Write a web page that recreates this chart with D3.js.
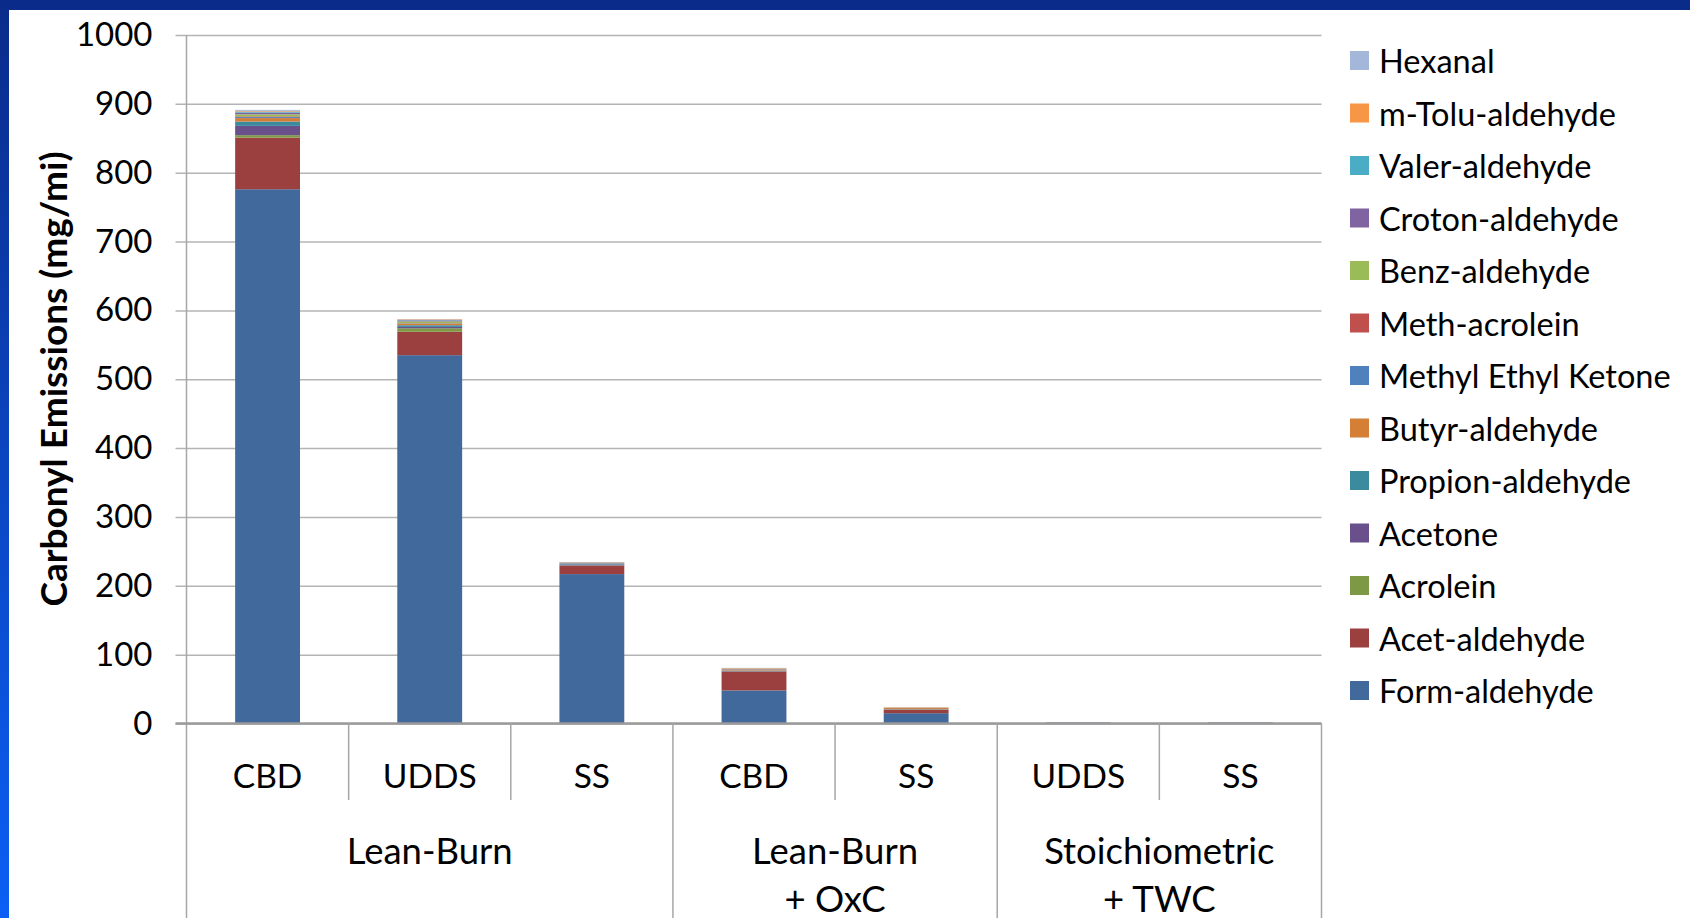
<!DOCTYPE html>
<html>
<head>
<meta charset="utf-8">
<script src="https://cdn.jsdelivr.net/npm/d3@7"></script>
<style>
  body { margin: 0; background: #fff; }
  svg text { font-family: Lato, "Open Sans", sans-serif; fill: #000; }
  .grid line { stroke: #b4b4b4; stroke-width: 1.5; }
  .tick-label { font-size: 33px; }
  .cat-label { font-size: 33.5px; }
  .group-label { font-size: 36.5px; }
  .legend-label { font-size: 32.5px; }
  .axis-title { font-size: 37px; font-weight: bold; }
</style>
</head>
<body>
<div id="chart"></div>
<script>
// Categories along the x axis (test cycle) and their group (engine setup)
const categories = ['CBD', 'UDDS', 'SS', 'CBD', 'SS', 'UDDS', 'SS'];
const groupOf = [0, 0, 0, 1, 1, 2, 2];
const groupNames = [['Lean-Burn'], ['Lean-Burn', '+ OxC'], ['Stoichiometric', '+ TWC']];

// Series, bottom of the stack first
const seriesNames = [
  'Form-aldehyde', 'Acet-aldehyde', 'Acrolein', 'Acetone', 'Propion-aldehyde',
  'Butyr-aldehyde', 'Methyl Ethyl Ketone', 'Meth-acrolein', 'Benz-aldehyde',
  'Croton-aldehyde', 'Valer-aldehyde', 'm-Tolu-aldehyde', 'Hexanal'
];
const seriesColors = [
  '#41699b', '#9b403e', '#7d9946', '#69508a', '#3c8a9e',
  '#d47e36', '#4f81bd', '#c0504d', '#9bbb59',
  '#8064a2', '#4bacc6', '#f79646', '#a5b7d9'
];

// mg/mi, one value per category
const formaldehyde   = [776, 535, 217, 48, 15, 1.4, 1.4];
const acetaldehyde   = [75, 34, 12, 27, 5, 0.2, 0.2];
const acrolein       = [3.5, 5, 0.5, 0.5, 0.3, 0, 0];
const acetone        = [13.5, 2, 1.5, 1, 0.3, 0, 0];
const propionaldehyde = [6.3, 2.5, 1, 0.5, 0.3, 0, 0];
const butyraldehyde  = [5, 2, 0.5, 1.5, 1.5, 0, 0];
const mek            = [1.5, 0.5, 0.5, 0.5, 0.2, 0, 0];
const methacrolein   = [1, 0.5, 0.3, 0.3, 0.1, 0, 0];
const benzaldehyde   = [3, 2.5, 0.3, 0.3, 0.2, 0, 0];
const crotonaldehyde = [2.5, 1.5, 0.3, 0.3, 0.1, 0, 0];
const valeraldehyde  = [1.5, 0.5, 0.2, 0.2, 0.1, 0, 0];
const mtolualdehyde  = [1, 1, 0.3, 0.5, 0.5, 0, 0];
const hexanal        = [1.5, 0.5, 0.2, 0.2, 0.1, 0, 0];

const seriesValues = [
  formaldehyde, acetaldehyde, acrolein, acetone, propionaldehyde, butyraldehyde,
  mek, methacrolein, benzaldehyde, crotonaldehyde, valeraldehyde, mtolualdehyde, hexanal
];

const yTicks = [0, 100, 200, 300, 400, 500, 600, 700, 800, 900, 1000];

// Layout
const W = 1690, H = 918;
const plot = { left: 186.5, right: 1321.5, top: 35, bottom: 723.5 };

const svg = d3.select('#chart').append('svg')
  .attr('width', W)
  .attr('height', H);

// Slide frame: blue gradient behind a white panel
const grad = svg.append('defs').append('linearGradient')
  .attr('id', 'frame-grad')
  .attr('x1', 0).attr('y1', 0).attr('x2', 0).attr('y2', 1);
grad.append('stop').attr('offset', '0%').attr('stop-color', '#0a2b8a');
grad.append('stop').attr('offset', '100%').attr('stop-color', '#0b5ff5');
svg.append('rect').attr('width', W).attr('height', H).attr('fill', 'url(#frame-grad)');
svg.append('rect').attr('x', 9).attr('y', 10).attr('width', W - 9).attr('height', H - 10).attr('fill', '#fff');

// Scales
const x = d3.scaleBand()
  .domain(d3.range(categories.length))
  .range([plot.left, plot.right])
  .paddingInner(0.6)
  .paddingOuter(0.3);
const step = x.step();

const y = d3.scaleLinear()
  .domain([0, 1000])
  .range([plot.bottom, plot.top]);

// Gridlines + y tick labels
const yAxis = d3.axisLeft(y)
  .tickValues(yTicks)
  .tickFormat(d3.format('d'))
  .tickSize(-(plot.right - plot.left + 11))
  .tickPadding(23);

const yAxisGroup = svg.append('g')
  .attr('class', 'grid')
  .attr('transform', `translate(${plot.left - 11},0)`)
  .call(yAxis);
yAxisGroup.select('.domain').remove();
yAxisGroup.selectAll('text')
  .attr('class', 'tick-label')
  .attr('font-family', null)
  .attr('font-size', null);

// Stacked bars
const table = categories.map((c, i) => {
  const row = { idx: i };
  seriesNames.forEach((s, k) => { row[s] = seriesValues[k][i]; });
  return row;
});
const stacked = d3.stack().keys(seriesNames)(table);

svg.append('g').selectAll('g')
  .data(stacked)
  .join('g')
  .attr('fill', (d, k) => seriesColors[k])
  .selectAll('rect')
  .data(d => d)
  .join('rect')
  .attr('x', d => x(d.data.idx))
  .attr('width', x.bandwidth())
  .attr('y', d => y(d[1]))
  .attr('height', d => Math.max(0, y(d[0]) - y(d[1])));

// Axes lines: y axis runs down through the category area
const axisColor = '#a6a6a6';
svg.append('line')
  .attr('x1', plot.left).attr('x2', plot.left)
  .attr('y1', plot.top).attr('y2', H)
  .attr('stroke', axisColor).attr('stroke-width', 1.5);
svg.append('line')
  .attr('x1', plot.left - 11).attr('x2', plot.right)
  .attr('y1', plot.bottom).attr('y2', plot.bottom)
  .attr('stroke', '#9a9a9a').attr('stroke-width', 2.5);

// Category separators: short ones inside a group, long ones between groups
const sepX = d3.range(1, categories.length + 1).map(i => plot.left + i * step);
svg.append('g').selectAll('line')
  .data(sepX)
  .join('line')
  .attr('x1', d => d).attr('x2', d => d)
  .attr('y1', plot.bottom)
  .attr('y2', (d, i) => (i === categories.length - 1 || groupOf[i] !== groupOf[i + 1]) ? H : 800)
  .attr('stroke', axisColor)
  .attr('stroke-width', 1.5);

// Category labels
svg.append('g').selectAll('text')
  .data(categories)
  .join('text')
  .attr('class', 'cat-label')
  .attr('x', (d, i) => x(i) + x.bandwidth() / 2)
  .attr('y', 775)
  .attr('text-anchor', 'middle')
  .attr('dominant-baseline', 'central')
  .text(d => d);

// Group labels, centred on their categories
groupNames.forEach((lines, g) => {
  const idx = categories.map((c, i) => i).filter(i => groupOf[i] === g);
  const cx = plot.left + (d3.min(idx) + d3.max(idx) + 1) / 2 * step;
  lines.forEach((t, j) => {
    svg.append('text')
      .attr('class', 'group-label')
      .attr('x', cx)
      .attr('y', 850 + j * 48)
      .attr('text-anchor', 'middle')
      .attr('dominant-baseline', 'central')
      .text(t);
  });
});

// Y axis title
svg.append('text')
  .attr('class', 'axis-title')
  .attr('transform', `translate(52,${379}) rotate(-90)`)
  .attr('text-anchor', 'middle')
  .attr('dominant-baseline', 'central')
  .text('Carbonyl Emissions (mg/mi)');

// Legend, top of stack first
const legendOrder = d3.range(seriesNames.length).reverse();
const legend = svg.append('g').selectAll('g')
  .data(legendOrder)
  .join('g')
  .attr('transform', (d, j) => `translate(1350,${60.5 + j * 52.5})`);
legend.append('rect')
  .attr('x', 0).attr('y', -9.5)
  .attr('width', 19).attr('height', 19)
  .attr('fill', k => seriesColors[k]);
legend.append('text')
  .attr('class', 'legend-label')
  .attr('x', 29)
  .attr('dominant-baseline', 'central')
  .text(k => seriesNames[k]);
</script>
</body>
</html>
